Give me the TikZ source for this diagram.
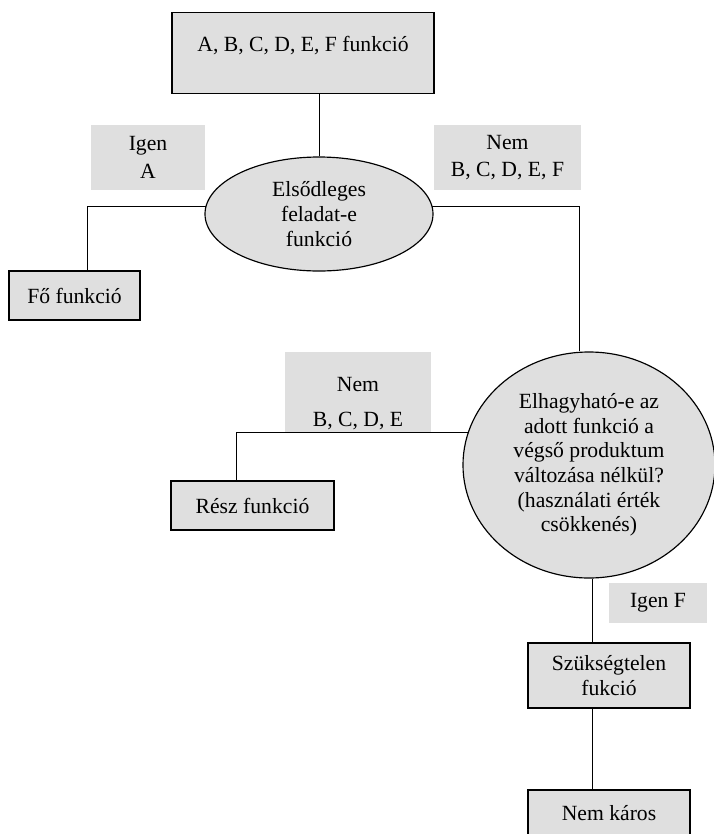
\documentclass[tikz,border=0pt]{standalone}
\usepackage{fontspec}
\setmainfont{Liberation Serif}
\usetikzlibrary{shapes.geometric,calc}

\begin{document}
\begin{tikzpicture}[x=0.6pt,y=-0.6pt,
  font=\fontsize{13}{14.8}\selectfont,
  box/.style={draw,line width=0.8pt,fill=gray!25,inner sep=0pt,align=center},
  oval/.style={ellipse,draw,line width=0.7pt,fill=gray!25,inner sep=0pt,align=center},
  lbl/.style={fill=gray!25,inner sep=0pt,align=center},
  conn/.style={line width=0.6pt}]
\useasboundingbox (0,0) rectangle (714,834);
\node[box,anchor=north,minimum width=157.2pt,text height=23pt,text depth=25.6pt] (top) at (303,12) {A, B, C, D, E, F funkció};
\node[oval,minimum width=136.8pt,minimum height=68.4pt] (ell1) at (319,214) {Elsődleges\\feladat-e\\funkció};
\node[lbl,minimum width=68.4pt,minimum height=39pt] (igenA) at (148,157.5) {Igen\\[1.6pt]A};
\node[lbl,minimum width=88.2pt,minimum height=39pt] (nem1) at (507.5,157.5) {Nem\\[1.6pt]B, C, D, E, F};
\node[box,minimum width=78.6pt,minimum height=29.4pt] (fo) at (74.5,295.5) {Fő funkció};
\node[oval,minimum width=151.2pt,minimum height=135.6pt] (ell2) at (589,465) {Elhagyható-e az\\adott funkció a\\végső produktum\\változása nélkül?\\(használati érték\\csökkenés)};
\node[lbl,minimum width=87.6pt,minimum height=48pt] (nem2) at (358,392) {\rule{0pt}{22pt}Nem\\[6.4pt]B, C, D, E};
\node[box,minimum width=97.8pt,minimum height=29.4pt] (resz) at (252.5,505.5) {Rész funkció};
\node[lbl,minimum width=58.8pt,minimum height=24pt] (igenF) at (658,603) {Igen F};
\node[box,minimum width=97.2pt,minimum height=39pt] (szuk) at (609,675.5) {Szükségtelen\\fukció};
\node[box,minimum width=97.2pt,minimum height=27.6pt] (karos) at (609,813) {Nem káros};
% connectors
\draw[conn] (ell1.north) -- (ell1.north |- top.south);
\draw[conn] (ell1.176) -| ($(fo.north)+(12.5,0)$);
\draw[conn] (ell1.4) -| ($(ell2.north)+(-10,0)$);
\draw[conn] (ell2.165) -| ($(resz.north)+(-16.5,0)$);
\draw[conn] (ell2.272) -- (ell2.272 |- szuk.north);
\draw[conn] (szuk.south -| ell2.272) -- (ell2.272 |- karos.north);
\end{tikzpicture}
\end{document}
